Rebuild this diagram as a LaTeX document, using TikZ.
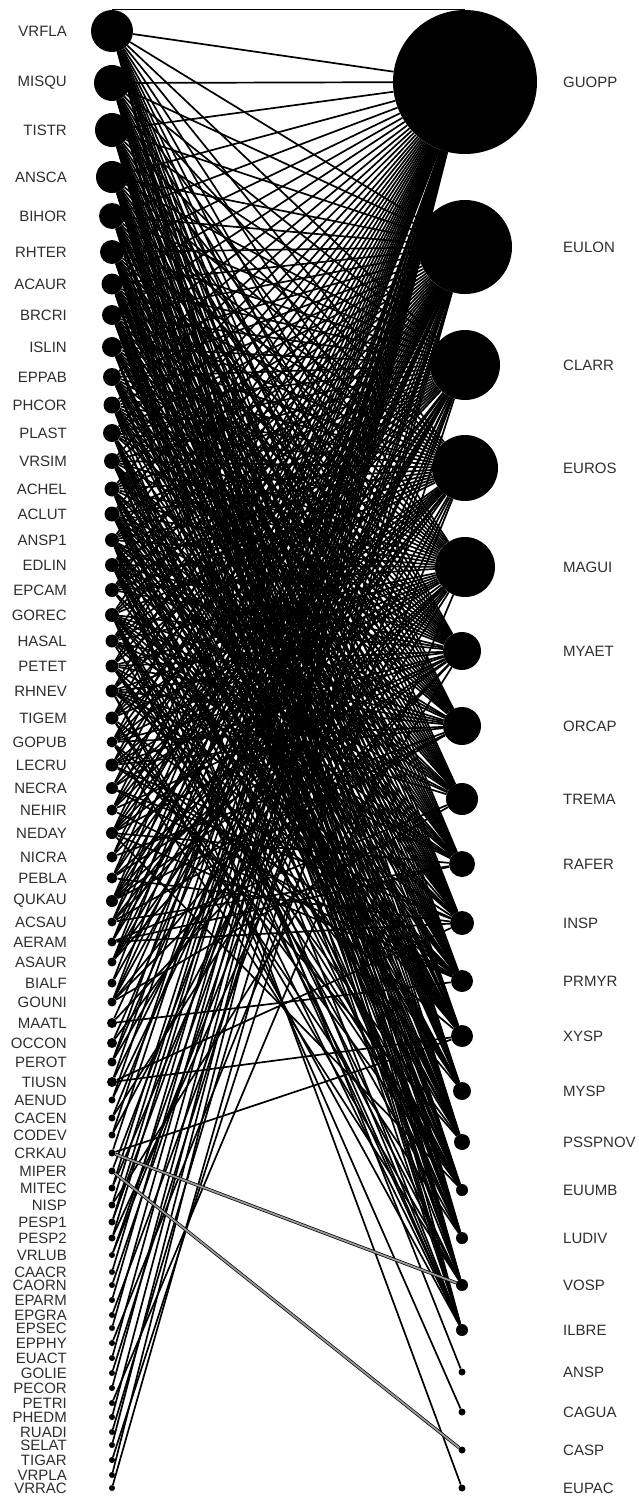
\documentclass[tikz,border=0pt]{standalone}
\usepackage{fontspec}
\setmainfont{Liberation Sans}
\usetikzlibrary{backgrounds}
\begin{document}
\begin{tikzpicture}[x=1pt,y=-1pt,
  dot/.style={circle,fill=black,draw=none,inner sep=0pt,minimum size=#1},
  lab/.style={text=black!82,inner sep=0pt,font=\fontsize{15}{15}\selectfont},
  edge/.style={draw=black,line width=1.7pt},
  band/.style={draw=black,line width=0.7pt,double=black!40,double distance=1.8pt}]
\useasboundingbox (0,0) rectangle (638,1497);
% left nodes
\foreach \t/\y/\r [count=\i] in {VRFLA/31/21,MISQU/83/18,TISTR/130/17,ANSCA/177/16,BIHOR/216/13,RHTER/252/12,ACAUR/284/10.5,BRCRI/315/10,ISLIN/347/10,EPPAB/377/9,PHCOR/405/8.5,PLAST/433/9,VRSIM/461/8,ACHEL/489/7.5,ACLUT/514/7.5,ANSP1/540/7,EDLIN/565/7,EPCAM/590/7,GOREC/615/7,HASAL/641/6.5,PETET/666/6.5,RHNEV/691/6.5,TIGEM/718/6.5,GOPUB/742/5.5,LECRU/765/6.5,NECRA/788/6,NEHIR/810/5.5,NEDAY/833/6,NICRA/857/5.5,PEBLA/878/5.5,QUKAU/901/6,ACSAU/922/4.5,AERAM/942/4.5,ASAUR/962/4.5,BIALF/983/4.5,GOUNI/1002/4.5,MAATL/1023/5,OCCON/1043/5,PEROT/1062/4.5,TIUSN/1082/5,AENUD/1100/3.5,CACEN/1118/3.5,CODEV/1135/3.5,CRKAU/1153/3.5,MIPER/1171/3.5,MITEC/1188/3.5,NISP/1205/3.5,PESP1/1222/3.5,PESP2/1238/3.5,VRLUB/1255/3,CAACR/1272/3,CAORN/1285/3,EPARM/1300/3,EPGRA/1315/3,EPSEC/1328/3,EPPHY/1343/3,EUACT/1358/3,GOLIE/1373/3,PECOR/1388/3,PETRI/1403/3,PHEDM/1417/3,RUADI/1432/3,SELAT/1445/3,TIGAR/1460/3,VRPLA/1475/3,VRRAC/1488/3}
{
  \node[dot=2*\r pt] (L\i) at (112,\y) {};
  \node[lab,anchor=east] (LT\i) at (67,\y) {\t};
}
% right nodes
\foreach \t/\x/\y/\r [count=\i] in {GUOPP/465/82/72,EULON/465/247/47,CLARR/465/365/35,EUROS/465/468/33,MAGUI/465/567/30,MYAET/462/651/19,ORCAP/462/726/19,TREMA/462/799/16,RAFER/462/864/13,INSP/462/923/12,PRMYR/462/981/11,XYSP/462/1036/11,MYSP/462/1091/9,PSSPNOV/462/1142/8,EUUMB/462/1190/6,LUDIV/462/1238/6,VOSP/462/1285/6,ILBRE/462/1330/6,ANSP/462/1372/3.5,CAGUA/462/1412/3.5,CASP/462/1450/3.5,EUPAC/462/1488/3.5}
{
  \node[dot=2*\r pt] (R\i) at (\x,\y) {};
  \node[lab,anchor=west] (RT\i) at (563,\y) {\t};
}
\begin{scope}[on background layer]
\draw[edge,line width=1pt] (L1.north) -- (R1.north);
\pgfmathsetseed{20240}
\foreach \j/\c/\w in {1/52/4,2/44/5,3/38/6,4/36/6,5/34/6,6/29/7,7/28/7,8/25/7,9/23/7,10/22/7,11/20/7,12/20/7,13/18/7,14/16/7,15/14/7,16/13/7,17/13/7,18/12/7}
{
  \foreach \i in {1,...,40}
  {
    \pgfmathsetmacro\p{1/(1+exp((\i-\c)/\w))}
    \pgfmathsetmacro\u{rnd}
    \ifdim\u pt<\p pt\relax \draw[edge] (L\i) -- (R\j); \fi
  }
}
\foreach \i/\lst in {
40/{12,10},41/{1,3},42/{2,5},43/{1,4},44/{1,12},45/{2},46/{1,3},47/{1,6},48/{1,2},49/{1,4},50/{2,3},
51/{1},52/{2},53/{1},54/{3},55/{1},56/{4},57/{1},58/{2},59/{1},60/{5},61/{1},62/{2},63/{1},64/{3},65/{1},66/{2},
14/{19},19/{20},16/{22}}
{
  \foreach \j in \lst { \draw[edge] (L\i) -- (R\j); }
}
\draw[band] (L44) -- (R17);
\draw[band] (L45) -- (R21);
\end{scope}
\end{tikzpicture}
\end{document}
